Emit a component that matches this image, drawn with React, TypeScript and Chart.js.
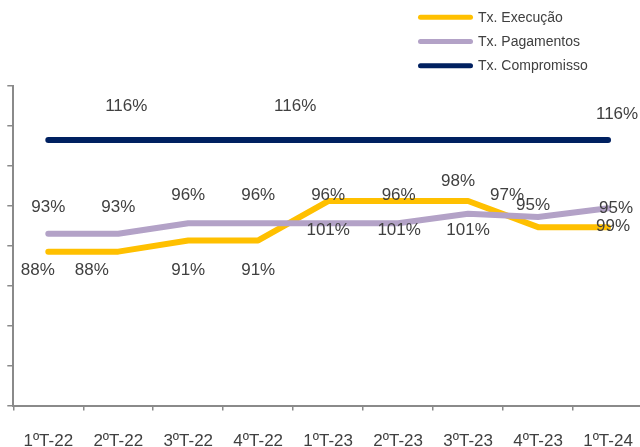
import { useEffect, useRef } from "react";
import { Chart, registerables } from "chart.js";

Chart.register(...registerables);

// ---- data ----
const categories = ["1ºT-22", "2ºT-22", "3ºT-22", "4ºT-22", "1ºT-23", "2ºT-23", "3ºT-23", "4ºT-23", "1ºT-24"];
const seriesNames = ["Tx. Execução", "Tx. Pagamentos", "Tx. Compromisso"];

// line heights (axis 0–120, unlabeled)
const execucao = [57.8, 57.8, 62.0, 62.0, 76.8, 76.8, 76.8, 67.0, 67.0];
const pagamentos = [64.5, 64.5, 68.5, 68.5, 68.5, 68.5, 72.0, 70.8, 74.1];
const compromisso = [99.7, 99.7, 99.7, 99.7, 99.7, 99.7, 99.7, 99.7, 99.7];

// data-label texts printed on the chart
const execucaoLabels = ["88%", "88%", "91%", "91%", "96%", "96%", "98%", "97%", "99%"];
const pagamentosLabels = ["93%", "93%", "96%", "96%", "101%", "101%", "101%", "95%", "95%"];
const compromissoLabels = [null, "116%", null, null, "116%", null, null, null, "116%"];

// ---- styling / layout (kept apart from the data) ----
const COLORS = ["#FFC000", "#B3A2C7", "#002060"];
const TEXT = "#404040";
const AXIS = "#8a8a8a";
const FONT = "'Liberation Sans', Arial, sans-serif";
const W = 654;
const H = 473;

const labelOffsets: (number[] | null)[][] = [
  [[-10.5, 19], [-26.5, 19], [0, 30], [0, 30], [0, -6], [0.5, -6], [-10, -20], [-31, -32], [5, -0.7]],
  [[0, -26.6], [0, -26.6], [0, -28.2], [0, -28.2], [0, 7.3], [1, 7.3], [0, 16.7], [-5, -11.7], [8, 0.3]],
  [null, [8, -33.5], null, null, [-33, -33.5], null, null, null, [9, -25.5]],
];

const valueLabelPlugin = {
  id: "valueLabels",
  afterDatasetsDraw(chart: any) {
    const ctx = chart.ctx;
    ctx.save();
    ctx.font = `17px ${FONT}`;
    ctx.fillStyle = TEXT;
    ctx.textAlign = "center";
    ctx.textBaseline = "middle";
    chart.data.datasets.forEach((ds: any, di: number) => {
      const meta = chart.getDatasetMeta(di);
      const texts = ds.valueLabels || [];
      const offs = ds.labelOffsets || [];
      meta.data.forEach((el: any, i: number) => {
        const t = texts[i];
        const o = offs[i];
        if (!t || !o) return;
        ctx.fillText(t, el.x + o[0], el.y + o[1]);
      });
    });
    ctx.restore();
  },
};

const legendPlugin = {
  id: "columnLegend",
  afterDraw(chart: any) {
    const ctx = chart.ctx;
    const x0 = 420.5;
    const x1 = 470.5;
    const tx = 478;
    const rows = [17.3, 41.5, 65.7];
    ctx.save();
    ctx.font = `14px ${FONT}`;
    ctx.textAlign = "left";
    ctx.textBaseline = "middle";
    chart.data.datasets.forEach((ds: any, i: number) => {
      const y = rows[i];
      ctx.beginPath();
      ctx.strokeStyle = ds.borderColor;
      ctx.lineWidth = 5;
      ctx.lineCap = "round";
      ctx.moveTo(x0, y);
      ctx.lineTo(x1, y);
      ctx.stroke();
      ctx.fillStyle = TEXT;
      ctx.fillText(ds.label, tx, y + 0.5);
    });
    ctx.restore();
  },
};

export default function App() {
  const ref = useRef<HTMLCanvasElement | null>(null);

  useEffect(() => {
    if (!ref.current) return;
    const series = [execucao, pagamentos, compromisso];
    const labelsets = [execucaoLabels, pagamentosLabels, compromissoLabels];
    const orders = [1, 0, 2];
    const chart = new Chart(ref.current, {
      type: "line",
      data: {
        labels: categories,
        datasets: series.map((d, i) => ({
          label: seriesNames[i],
          data: d,
          borderColor: COLORS[i],
          backgroundColor: COLORS[i],
          borderWidth: 6,
          borderCapStyle: "round",
          borderJoinStyle: "round",
          pointRadius: 0,
          pointHoverRadius: 0,
          tension: 0,
          fill: false,
          order: orders[i],
          valueLabels: labelsets[i],
          labelOffsets: labelOffsets[i],
        })) as any,
      },
      options: {
        animation: false,
        responsive: false,
        devicePixelRatio: 1,
        layout: { padding: { top: 86, left: 7.3, right: 2, bottom: 0 } },
        plugins: {
          legend: { display: false },
          tooltip: { enabled: false },
          title: { display: false },
        },
        scales: {
          x: {
            type: "category",
            offset: true,
            grid: {
              offset: true,
              drawOnChartArea: false,
              drawTicks: true,
              tickLength: 5,
              color: AXIS,
              lineWidth: 1.5,
            },
            border: { display: true, color: AXIS, width: 2 },
            ticks: {
              color: TEXT,
              font: { family: FONT, size: 17 },
              padding: 21,
              maxRotation: 0,
              autoSkip: false,
            },
          },
          y: {
            min: 0,
            max: 120,
            ticks: { display: false, stepSize: 15 },
            grid: {
              drawOnChartArea: false,
              drawTicks: true,
              tickLength: 6,
              color: AXIS,
              lineWidth: 1.5,
            },
            border: { display: true, color: AXIS, width: 2 },
          },
        },
      },
      plugins: [valueLabelPlugin, legendPlugin],
    });
    return () => chart.destroy();
  }, []);

  return (
    <div style={{ position: "fixed", left: 0, top: 0, width: W, height: H, background: "#fff" }}>
      <canvas ref={ref} width={W} height={H} style={{ width: W, height: H, display: "block" }} />
    </div>
  );
}
